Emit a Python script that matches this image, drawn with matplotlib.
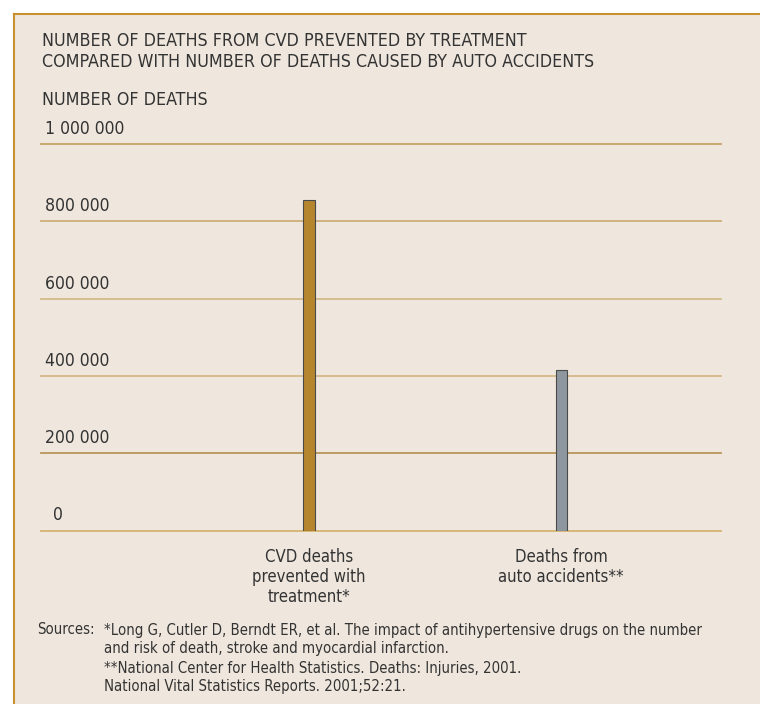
import matplotlib
matplotlib.use("Agg")
import matplotlib.pyplot as plt
from matplotlib.patches import Rectangle
from matplotlib.lines import Line2D

plt.rcParams['font.family'] = ['DejaVu Sans']
plt.rcParams['font.stretch'] = 'condensed'

# data
categories = ["CVD deaths\nprevented with\ntreatment*", "Deaths from\nauto accidents**"]
deaths = [855000, 415000]
bar_colors = ["#B5862E", "#8E979F"]
yticks = [0, 200000, 400000, 600000, 800000, 1000000]
ytick_labels = ["0", "200 000", "400 000", "600 000", "800 000", "1 000 000"]

title_lines = ["NUMBER OF DEATHS FROM CVD PREVENTED BY TREATMENT",
               "COMPARED WITH NUMBER OF DEATHS CAUSED BY AUTO ACCIDENTS"]
sources = ["*Long G, Cutler D, Berndt ER, et al. The impact of antihypertensive drugs on the number",
           "and risk of death, stroke and myocardial infarction.",
           "**National Center for Health Statistics. Deaths: Injuries, 2001.",
           "National Vital Statistics Reports. 2001;52:21."]

bg = "#EFE7DE"
border = "#C8902E"
grid_colors = ["#D6B46E", "#B8955A", "#D4B887", "#D3BA8A", "#CDAE78", "#C4A264"]
txt = "#333333"

W, H = 760, 704
fig = plt.figure(figsize=(W / 100, H / 100), dpi=100)
fig.patch.set_facecolor("white")


def fx(px):
    return px / W


def fy(py):
    return 1 - py / H


# panel background + border (top and left only)
fig.add_artist(Rectangle((fx(14), 0), 1, fy(14), transform=fig.transFigure,
                         facecolor=bg, edgecolor="none", zorder=0))
fig.add_artist(Line2D([fx(14), 1], [fy(14), fy(14)], transform=fig.transFigure,
                      color=border, lw=1.5))
fig.add_artist(Line2D([fx(14), fx(14)], [0, fy(14)], transform=fig.transFigure,
                      color=border, lw=1.5))

ax = fig.add_axes([fx(41), fy(530.5), fx(680), 386.5 / H])
ax.set_facecolor("none")
ax.set_xlim(-1.062, 1.633)
ax.set_ylim(0, 1000000)

for v, c in zip(yticks, grid_colors):
    ax.axhline(v, color=c, lw=1.3, clip_on=False, zorder=1)

xpos = list(range(len(categories)))
ax.bar(xpos, deaths, width=0.044, color=bar_colors, edgecolor="#4A4A4A",
       linewidth=0.8, zorder=3)

for v, lab in zip(yticks, ytick_labels):
    dx = 12 if v == 0 else 4
    ax.annotate(lab, xy=(0, v), xycoords=("axes fraction", "data"),
                xytext=(dx, 15), textcoords="offset pixels",
                ha="left", va="center", fontsize=12.6, color=txt)

for x, lab in zip(xpos, categories):
    for i, line in enumerate(lab.split("\n")):
        ax.annotate(line, xy=(x, 0), xycoords="data", xytext=(0, -(26 + 20.5 * i)),
                    textcoords="offset pixels", ha="center", va="center",
                    fontsize=12, color=txt)

for s in ax.spines.values():
    s.set_visible(False)
ax.set_xticks([])
ax.set_yticks([])

for i, line in enumerate(title_lines):
    fig.text(fx(42), fy(41 + 21 * i), line, ha="left", va="center", fontsize=12.8,
             color=txt)
fig.text(fx(42), fy(100), "NUMBER OF DEATHS", ha="left", va="center",
         fontsize=12.8, color=txt)

fig.text(fx(37), fy(630), "Sources:", ha="left", va="center", fontsize=10.7, color=txt)
for i, line in enumerate(sources):
    fig.text(fx(104), fy(630 + 19 * i), line, ha="left", va="center",
             fontsize=10.7, color=txt)

fig.savefig("out.png", dpi=100, facecolor=fig.get_facecolor())
